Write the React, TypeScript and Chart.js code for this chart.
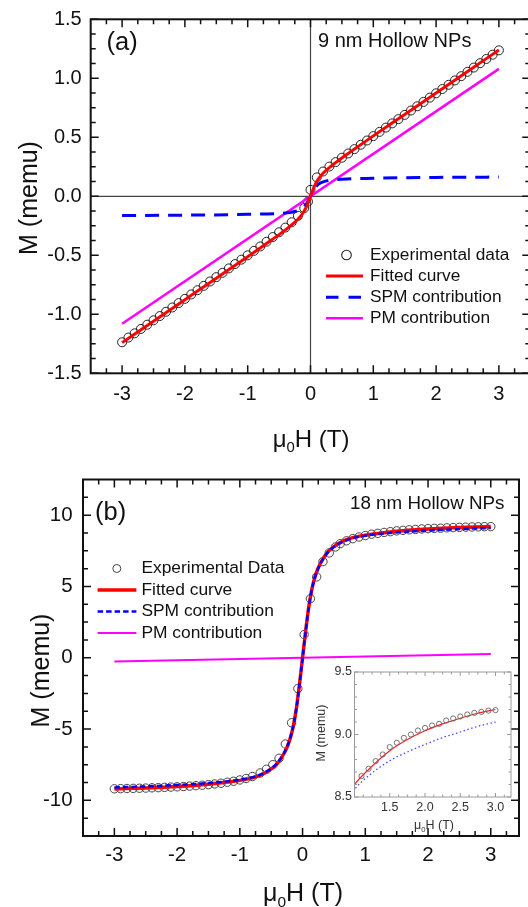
import React, { useEffect, useRef } from 'react';
import { Chart, registerables } from 'chart.js';
Chart.register(...registerables);

const FONT = '"Liberation Sans", Arial, Helvetica, sans-serif';
const f = (size: number) => `${size}px ${FONT}`;

// ---------------- Panel (a): 9 nm hollow NPs ----------------
const A_EXP_H = [-3.0, -2.9, -2.8, -2.7, -2.6, -2.5, -2.4, -2.3, -2.2, -2.1, -2.0, -1.9, -1.8, -1.7, -1.6, -1.5, -1.4, -1.3, -1.2, -1.1, -1.0, -0.9, -0.8, -0.7, -0.6, -0.5, -0.4, -0.3, -0.2, -0.1, -0.04, 0.0, 0.1, 0.2, 0.3, 0.4, 0.5, 0.6, 0.7, 0.8, 0.9, 1.0, 1.1, 1.2, 1.3, 1.4, 1.5, 1.6, 1.7, 1.8, 1.9, 2.0, 2.1, 2.2, 2.3, 2.4, 2.5, 2.6, 2.7, 2.8, 2.9, 3.0];
const A_EXP_M = [-1.237, -1.197, -1.161, -1.124, -1.088, -1.051, -1.015, -0.978, -0.942, -0.905, -0.869, -0.832, -0.796, -0.759, -0.722, -0.685, -0.648, -0.611, -0.574, -0.537, -0.5, -0.462, -0.425, -0.385, -0.345, -0.305, -0.265, -0.22, -0.165, -0.1, -0.045, 0.055, 0.16, 0.21, 0.252, 0.29, 0.327, 0.363, 0.4, 0.437, 0.473, 0.51, 0.546, 0.582, 0.618, 0.654, 0.69, 0.727, 0.763, 0.8, 0.836, 0.873, 0.909, 0.945, 0.982, 1.018, 1.055, 1.091, 1.128, 1.164, 1.2, 1.237];
const A_FIT_H = [-3, -2.5, -2, -1.5, -1, -0.7, -0.5, -0.4, -0.3, -0.2, -0.15, -0.1, -0.05, 0, 0.05, 0.1, 0.15, 0.2, 0.3, 0.4, 0.5, 0.7, 1, 1.5, 2, 2.5, 3];
const A_FIT_M = [-1.24, -1.058, -0.876, -0.694, -0.512, -0.4, -0.325, -0.285, -0.243, -0.195, -0.165, -0.125, -0.07, 0, 0.07, 0.125, 0.165, 0.195, 0.243, 0.285, 0.325, 0.4, 0.512, 0.694, 0.876, 1.058, 1.24];
const A_SPM_H = [-3, -2, -1, -0.5, -0.3, -0.2, -0.15, -0.1, -0.05, 0, 0.05, 0.1, 0.15, 0.2, 0.3, 0.5, 1, 2, 3];
const A_SPM_M = [-0.163, -0.16, -0.153, -0.145, -0.135, -0.122, -0.11, -0.089, -0.052, 0, 0.052, 0.089, 0.11, 0.122, 0.135, 0.145, 0.153, 0.16, 0.163];
const A_PM_H = [-3, 3];
const A_PM_M = [-1.08, 1.08];
const A_X_TICKS = [-3, -2, -1, 0, 1, 2, 3];
const A_X_LABELS = ['-3', '-2', '-1', '0', '1', '2', '3'];
const A_Y_TICKS = [-1.5, -1.0, -0.5, 0, 0.5, 1.0, 1.5];
const A_Y_LABELS = ['-1.5', '-1.0', '-0.5', '0.0', '0.5', '1.0', '1.5'];

// ---------------- Panel (b): 18 nm hollow NPs ----------------
const B_EXP_H = [-3.0, -2.9, -2.8, -2.7, -2.6, -2.5, -2.4, -2.3, -2.2, -2.1, -2.0, -1.9, -1.8, -1.7, -1.6, -1.5, -1.4, -1.3, -1.2, -1.1, -1.0, -0.9, -0.8, -0.675, -0.575, -0.475, -0.375, -0.275, -0.175, -0.075, 0.025, 0.125, 0.225, 0.325, 0.425, 0.525, 0.6, 0.7, 0.8, 0.9, 1.0, 1.1, 1.2, 1.3, 1.4, 1.5, 1.6, 1.7, 1.8, 1.9, 2.0, 2.1, 2.2, 2.3, 2.4, 2.5, 2.6, 2.7, 2.8, 2.9, 3.0];
const B_EXP_M = [-9.19, -9.18, -9.17, -9.16, -9.15, -9.14, -9.12, -9.11, -9.09, -9.07, -9.05, -9.03, -9.0, -8.97, -8.94, -8.9, -8.85, -8.8, -8.73, -8.66, -8.57, -8.47, -8.33, -8.08, -7.82, -7.5, -7.05, -6.05, -4.56, -2.16, 1.63, 4.14, 5.67, 6.74, 7.35, 7.77, 8.0, 8.2, 8.35, 8.47, 8.57, 8.668, 8.726, 8.787, 8.84, 8.899, 8.934, 8.973, 9.0, 9.032, 9.053, 9.072, 9.085, 9.112, 9.128, 9.144, 9.16, 9.173, 9.181, 9.191, 9.195];
const B_CURVE_H = [-3, -2.5, -2, -1.5, -1.2, -1, -0.8, -0.7, -0.6, -0.5, -0.4, -0.3, -0.25, -0.2, -0.15, -0.1, -0.05, 0, 0.05, 0.1, 0.15, 0.2, 0.25, 0.3, 0.4, 0.5, 0.6, 0.7, 0.8, 1, 1.2, 1.5, 1.75, 2, 2.25, 2.5, 2.75, 3];
const B_FIT_M = [-9.2, -9.13, -9.03, -8.87, -8.72, -8.6, -8.42, -8.28, -8.08, -7.8, -7.4, -6.75, -6.3, -5.7, -4.85, -3.6, -1.9, 0, 1.9, 3.6, 4.85, 5.7, 6.3, 6.75, 7.4, 7.8, 8.08, 8.28, 8.42, 8.6, 8.72, 8.87, 8.96, 9.03, 9.085, 9.13, 9.17, 9.2];
const B_SPM_M = [-9.1, -9.02, -8.92, -8.79, -8.67, -8.56, -8.38, -8.24, -8.04, -7.77, -7.37, -6.72, -6.27, -5.68, -4.83, -3.59, -1.89, 0, 1.89, 3.59, 4.83, 5.68, 6.27, 6.72, 7.37, 7.77, 8.04, 8.24, 8.38, 8.56, 8.67, 8.79, 8.86, 8.92, 8.975, 9.02, 9.065, 9.1];
const B_PM_H = [-3, 3];
const B_PM_M = [-0.26, 0.26];
const B_X_TICKS = [-3, -2, -1, 0, 1, 2, 3];
const B_X_LABELS = ['-3', '-2', '-1', '0', '1', '2', '3'];
const B_Y_TICKS = [-10, -5, 0, 5, 10];
const B_Y_LABELS = ['-10', '-5', '0', '5', '10'];

// ---------------- Inset ----------------
const IN_X_TICKS = [1.5, 2.0, 2.5, 3.0];
const IN_X_LABELS = ['1.5', '2.0', '2.5', '3.0'];
const IN_Y_TICKS = [8.5, 9.0, 9.5];
const IN_Y_LABELS = ['8.5', '9.0', '9.5'];

const LEGEND_LABELS = {
  a: ['Experimental data', 'Fitted curve', 'SPM contribution', 'PM contribution'],
  b: ['Experimental Data', 'Fitted curve', 'SPM contribution', 'PM contribution'],
};

const RED = '#ff0000';
const BLUE = '#0000ff';
const MAGENTA = '#ff00ff';

const zip = (h: number[], m: number[]) => h.map((x, i) => ({ x, y: m[i] }));

type Axis = { min: number; max: number; major: number[]; labels: string[]; minor: number };
type LegendItem = {
  label: string; kind: 'circle' | 'line'; y: number; color: string; width: number;
  cx?: number; r?: number; x1?: number; x2?: number; dash?: number[];
};
type FrameCfg = {
  x: Axis; y: Axis;
  frameColor: string; frameWidth: number; tickColor: string; tickWidth: number;
  majorLen: number; minorLen: number;
  tickFont: string; labelColor: string; xLabelY: number; yLabelRight: number;
  xTitle: { cx: number; base: number; size: number };
  yTitle: { text: string; base: number; cy: number; size: number };
  zeroLines?: { color: string; width: number };
  bg?: string;
  texts?: { text: string; x: number; base: number; font: string }[];
  legend?: { items: LegendItem[]; textX: number; font: string; color: string };
};

function drawMu0H(ctx: CanvasRenderingContext2D, cx: number, base: number, size: number, color: string) {
  ctx.font = f(size);
  const w1 = ctx.measureText('μ').width;
  const w3 = ctx.measureText('H (T)').width;
  ctx.font = f(size * 0.62);
  const w2 = ctx.measureText('0').width;
  let x = cx - (w1 + w2 + w3) / 2;
  ctx.fillStyle = color;
  ctx.textAlign = 'left';
  ctx.textBaseline = 'alphabetic';
  ctx.font = f(size);
  ctx.fillText('μ', x, base);
  x += w1;
  ctx.font = f(size * 0.62);
  ctx.fillText('0', x, base + size * 0.22);
  x += w2;
  ctx.font = f(size);
  ctx.fillText('H (T)', x, base);
}

function minorValues(ax: Axis) {
  const out: number[] = [];
  const s = ax.minor;
  for (let k = Math.ceil(ax.min / s - 1e-9); k * s <= ax.max + 1e-9; k++) {
    const v = +(k * s).toFixed(6);
    if (v <= ax.min + 1e-9 || v >= ax.max - 1e-9) continue;
    if (ax.major.some((m) => Math.abs(m - v) < 1e-6)) continue;
    out.push(v);
  }
  return out;
}

function makeFramePlugin(c: FrameCfg) {
  return {
    id: 'originFrame',
    beforeDatasetsDraw(chart: any) {
      const { ctx, chartArea: a } = chart;
      const xs = chart.scales.x;
      const ys = chart.scales.y;
      ctx.save();
      if (c.bg) {
        ctx.fillStyle = c.bg;
        ctx.fillRect(a.left, a.top, a.right - a.left, a.bottom - a.top);
      }
      if (c.zeroLines) {
        ctx.strokeStyle = c.zeroLines.color;
        ctx.lineWidth = c.zeroLines.width;
        ctx.beginPath();
        const px = xs.getPixelForValue(0);
        const py = ys.getPixelForValue(0);
        ctx.moveTo(px, a.top);
        ctx.lineTo(px, a.bottom);
        ctx.moveTo(a.left, py);
        ctx.lineTo(a.right, py);
        ctx.stroke();
      }
      ctx.restore();
    },
    afterDatasetsDraw(chart: any) {
      const { ctx, chartArea: a } = chart;
      const xs = chart.scales.x;
      const ys = chart.scales.y;
      ctx.save();
      // ticks (inward on all four sides)
      ctx.strokeStyle = c.tickColor;
      ctx.lineWidth = c.tickWidth;
      ctx.beginPath();
      const xt = (v: number, len: number) => {
        const px = xs.getPixelForValue(v);
        ctx.moveTo(px, a.bottom);
        ctx.lineTo(px, a.bottom - len);
        ctx.moveTo(px, a.top);
        ctx.lineTo(px, a.top + len);
      };
      const yt = (v: number, len: number) => {
        const py = ys.getPixelForValue(v);
        ctx.moveTo(a.left, py);
        ctx.lineTo(a.left + len, py);
        ctx.moveTo(a.right, py);
        ctx.lineTo(a.right - len, py);
      };
      c.x.major.forEach((v) => xt(v, c.majorLen));
      minorValues(c.x).forEach((v) => xt(v, c.minorLen));
      c.y.major.forEach((v) => yt(v, c.majorLen));
      minorValues(c.y).forEach((v) => yt(v, c.minorLen));
      ctx.stroke();
      // frame
      ctx.strokeStyle = c.frameColor;
      ctx.lineWidth = c.frameWidth;
      ctx.strokeRect(a.left, a.top, a.right - a.left, a.bottom - a.top);
      // tick labels
      ctx.fillStyle = c.labelColor;
      ctx.font = c.tickFont;
      ctx.textBaseline = 'middle';
      ctx.textAlign = 'center';
      c.x.major.forEach((v, i) => ctx.fillText(c.x.labels[i], xs.getPixelForValue(v), c.xLabelY));
      ctx.textAlign = 'right';
      c.y.major.forEach((v, i) => ctx.fillText(c.y.labels[i], c.yLabelRight, ys.getPixelForValue(v)));
      // axis titles
      drawMu0H(ctx, c.xTitle.cx, c.xTitle.base, c.xTitle.size, c.labelColor);
      ctx.save();
      ctx.translate(c.yTitle.base, c.yTitle.cy);
      ctx.rotate(-Math.PI / 2);
      ctx.font = f(c.yTitle.size);
      ctx.textAlign = 'center';
      ctx.textBaseline = 'alphabetic';
      ctx.fillStyle = c.labelColor;
      ctx.fillText(c.yTitle.text, 0, 0);
      ctx.restore();
      // free texts
      (c.texts || []).forEach((t) => {
        ctx.font = t.font;
        ctx.textAlign = 'left';
        ctx.textBaseline = 'alphabetic';
        ctx.fillStyle = c.labelColor;
        ctx.fillText(t.text, t.x, t.base);
      });
      // legend
      if (c.legend) {
        const lg = c.legend;
        lg.items.forEach((it) => {
          ctx.save();
          ctx.strokeStyle = it.color;
          ctx.lineWidth = it.width;
          if (it.kind === 'circle') {
            ctx.beginPath();
            ctx.arc(it.cx!, it.y, it.r!, 0, Math.PI * 2);
            ctx.stroke();
          } else {
            ctx.setLineDash(it.dash || []);
            ctx.beginPath();
            ctx.moveTo(it.x1!, it.y);
            ctx.lineTo(it.x2!, it.y);
            ctx.stroke();
          }
          ctx.restore();
          ctx.font = lg.font;
          ctx.fillStyle = lg.color;
          ctx.textAlign = 'left';
          ctx.textBaseline = 'middle';
          ctx.fillText(it.label, lg.textX, it.y);
        });
      }
      ctx.restore();
    },
  };
}

function makeConfig(datasets: any[], xr: number[], yr: number[], padding: any, plugin: any): any {
  return {
    type: 'line',
    data: { datasets },
    options: {
      animation: false,
      responsive: false,
      devicePixelRatio: 1,
      events: [],
      layout: { padding },
      scales: {
        x: { type: 'linear', min: xr[0], max: xr[1], display: false },
        y: { type: 'linear', min: yr[0], max: yr[1], display: false },
      },
      plugins: { legend: { display: false }, tooltip: { enabled: false } },
    },
    plugins: [plugin],
  };
}

const lineDs = (data: any[], color: string, width: number, dash: number[] = []) => ({
  data,
  showLine: true,
  borderColor: color,
  borderWidth: width,
  borderDash: dash,
  pointRadius: 0,
  fill: false,
  cubicInterpolationMode: 'monotone',
});
const circleDs = (data: any[], color: string, r: number, w: number) => ({
  data,
  showLine: false,
  pointStyle: 'circle',
  pointRadius: r,
  pointBorderWidth: w,
  pointBorderColor: color,
  pointBackgroundColor: 'rgba(0,0,0,0)',
});

export default function App() {
  const refA = useRef<HTMLCanvasElement>(null);
  const refB = useRef<HTMLCanvasElement>(null);
  const refI = useRef<HTMLCanvasElement>(null);

  useEffect(() => {
    // ---- Panel (a) ----
    const frameA: FrameCfg = {
      x: { min: -3.5, max: 3.5, major: A_X_TICKS, labels: A_X_LABELS, minor: 0.25 },
      y: { min: -1.5, max: 1.5, major: A_Y_TICKS, labels: A_Y_LABELS, minor: 0.125 },
      frameColor: '#111', frameWidth: 2, tickColor: '#111', tickWidth: 1.5,
      majorLen: 8, minorLen: 5,
      tickFont: f(20), labelColor: '#111', xLabelY: 394, yLabelRight: 81.7,
      xTitle: { cx: 311, base: 446.5, size: 24 },
      yTitle: { text: 'M (memu)', base: 37, cy: 198, size: 25 },
      zeroLines: { color: '#444', width: 1.2 },
      texts: [
        { text: '(a)', x: 106.5, base: 50, font: f(25.5) },
        { text: '9 nm Hollow NPs', x: 318, base: 47, font: f(20) },
      ],
      legend: {
        textX: 370, font: f(17.3), color: '#111',
        items: [
          { label: LEGEND_LABELS.a[0], kind: 'circle', y: 255, cx: 346.5, r: 4.8, color: '#222', width: 1.1 },
          { label: LEGEND_LABELS.a[1], kind: 'line', y: 276, x1: 326, x2: 363, color: RED, width: 3 },
          { label: LEGEND_LABELS.a[2], kind: 'line', y: 297.3, x1: 326, x2: 363, color: BLUE, width: 3, dash: [12.5, 10] },
          { label: LEGEND_LABELS.a[3], kind: 'line', y: 318.3, x1: 326, x2: 363, color: MAGENTA, width: 2.5 },
        ],
      },
    };
    const chartA = new Chart(
      refA.current!,
      makeConfig(
        [
          lineDs(zip(A_FIT_H, A_FIT_M), RED, 3),
          lineDs(zip(A_SPM_H, A_SPM_M), BLUE, 3, [14, 9]),
          lineDs(zip(A_PM_H, A_PM_M), MAGENTA, 2.5),
          circleDs(zip(A_EXP_H, A_EXP_M), '#222', 4.5, 1),
        ],
        [-3.5, 3.5],
        [-1.5, 1.5],
        { left: 90.7, top: 19.3, right: 540 - 530.3, bottom: 455 - 373.3 },
        makeFramePlugin(frameA)
      )
    );

    // ---- Panel (b) ---- (canvas top = 440)
    const frameB: FrameCfg = {
      x: { min: -3.5, max: 3.45, major: B_X_TICKS, labels: B_X_LABELS, minor: 0.25 },
      y: { min: -12.5, max: 12.5, major: B_Y_TICKS, labels: B_Y_LABELS, minor: 1.25 },
      frameColor: '#111', frameWidth: 2, tickColor: '#111', tickWidth: 1.5,
      majorLen: 8, minorLen: 5,
      tickFont: f(20.5), labelColor: '#111', xLabelY: 415.5, yLabelRight: 72.6,
      xTitle: { cx: 303, base: 461, size: 25 },
      yTitle: { text: 'M (memu)', base: 48.8, cy: 230.5, size: 25 },
      texts: [
        { text: '(b)', x: 95, base: 80.3, font: f(25.5) },
        { text: '18 nm Hollow NPs', x: 350, base: 69, font: f(18.8) },
      ],
      legend: {
        textX: 141.4, font: f(17.4), color: '#111',
        items: [
          { label: LEGEND_LABELS.b[0], kind: 'circle', y: 128.5, cx: 116.8, r: 4, color: '#444', width: 1 },
          { label: LEGEND_LABELS.b[1], kind: 'line', y: 150, x1: 97.6, x2: 136.4, color: RED, width: 3.5 },
          { label: LEGEND_LABELS.b[2], kind: 'line', y: 171.5, x1: 97.6, x2: 136.4, color: BLUE, width: 2.5, dash: [5.5, 3] },
          { label: LEGEND_LABELS.b[3], kind: 'line', y: 193, x1: 97.6, x2: 136.4, color: MAGENTA, width: 2 },
        ],
      },
    };
    const chartB = new Chart(
      refB.current!,
      makeConfig(
        [
          lineDs(zip(B_CURVE_H, B_SPM_M), BLUE, 2.5, [5.5, 3]),
          lineDs(zip(B_CURVE_H, B_FIT_M), RED, 3.5),
          lineDs(zip(B_PM_H, B_PM_M), MAGENTA, 2),
          circleDs(zip(B_EXP_H, B_EXP_M), '#444', 4.2, 1),
        ],
        [-3.5, 3.45],
        [-12.5, 12.5],
        { left: 83, top: 39.5, right: 528 - 519, bottom: 470 - 396 },
        makeFramePlugin(frameB)
      )
    );

    // ---- Inset ---- (canvas at left 300, top 650)
    const frameI: FrameCfg = {
      x: { min: 1.0, max: 3.22, major: IN_X_TICKS, labels: IN_X_LABELS, minor: 0.125 },
      y: { min: 8.5, max: 9.5, major: IN_Y_TICKS, labels: IN_Y_LABELS, minor: 0.1 },
      frameColor: '#9a9a9a', frameWidth: 1, tickColor: '#9a9a9a', tickWidth: 1,
      majorLen: 4, minorLen: 2.5,
      tickFont: f(12.5), labelColor: '#333', xLabelY: 158, yLabelRight: 52,
      xTitle: { cx: 134, base: 179, size: 12.5 },
      yTitle: { text: 'M (memu)', base: 25, cy: 83, size: 12.5 },
      bg: '#ffffff',
    };
    const insetExp = B_EXP_H.map((x, i) => ({ x, y: B_EXP_M[i] })).filter((p) => p.x >= 1.05);
    const chartI = new Chart(
      refI.current!,
      makeConfig(
        [
          circleDs(insetExp, '#666', 2.6, 0.9),
          lineDs(zip(B_CURVE_H, B_FIT_M), '#ff2020', 1.2),
          lineDs(zip(B_CURVE_H, B_SPM_M), '#4a4aff', 1.3, [1.5, 2.5]),
        ],
        [1.0, 3.22],
        [8.5, 9.5],
        { left: 54.5, top: 22, right: 222 - 211, bottom: 185 - 147 },
        makeFramePlugin(frameI)
      )
    );

    return () => {
      chartA.destroy();
      chartB.destroy();
      chartI.destroy();
    };
  }, []);

  return (
    <div style={{ position: 'absolute', left: 0, top: 0, width: 528, height: 907, overflow: 'hidden', background: '#fff' }}>
      <canvas ref={refA} width={540} height={455} style={{ position: 'absolute', left: 0, top: 0 }} />
      <canvas ref={refB} width={528} height={470} style={{ position: 'absolute', left: 0, top: 440 }} />
      <canvas ref={refI} width={222} height={185} style={{ position: 'absolute', left: 300, top: 650 }} />
    </div>
  );
}
